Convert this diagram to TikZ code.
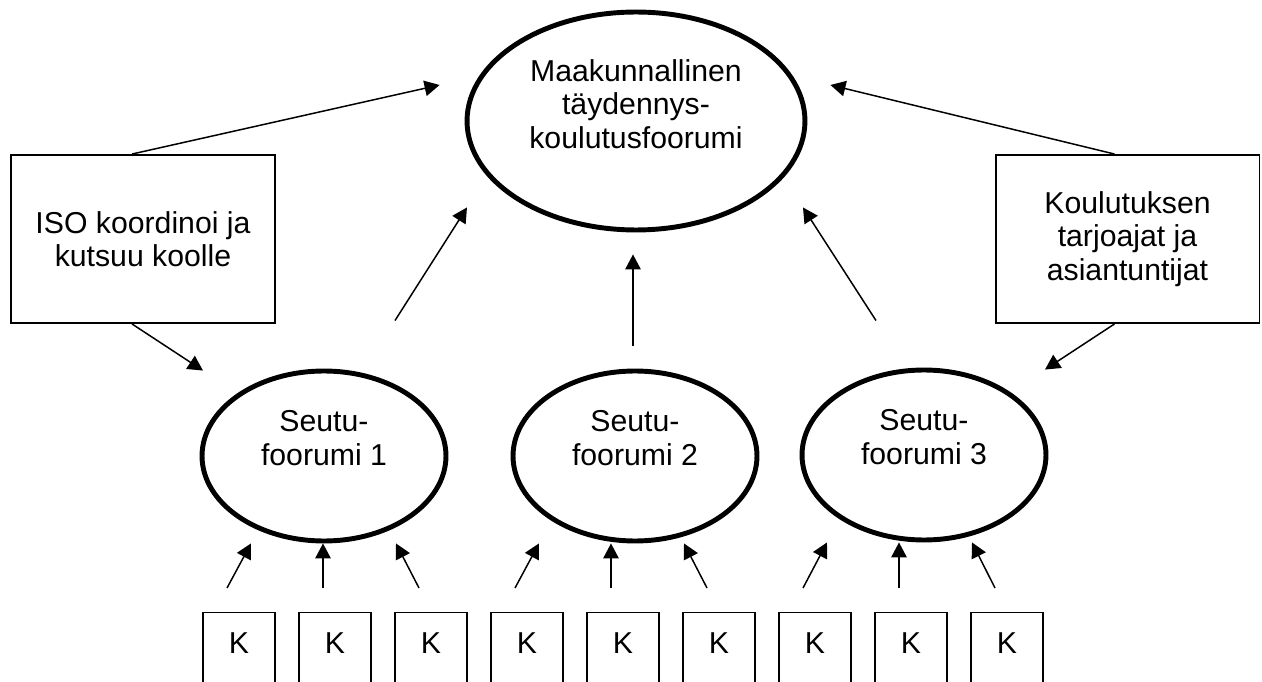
\documentclass[tikz,border=0pt]{standalone}
\usepackage{fontspec}
\setmainfont{Liberation Sans}
\usepackage{tikz}
\usetikzlibrary{shapes.geometric, arrows.meta, calc}
\newcommand{\diagramFont}{\fontsize{17.2}{19}\selectfont}
\tikzstyle{diagram} = [x = 0.02cm, y = -0.02cm, every node/.style={font=\diagramFont}]
\tikzstyle{forumStyle} = [draw, ellipse, line width=2.8pt, inner sep=0]
\tikzstyle{forumText} = [align=center, inner sep=0]
\tikzstyle{boxStyle} = [draw, line width=1.1pt, align=center, minimum width=5.28cm, minimum height=3.36cm]
\tikzstyle{kStyle} = [draw, line width=.7pt, anchor=north, minimum width=1.44cm, inner sep=0, text height=.82cm, text depth=2cm]
\tikzstyle{arrowStyle} = [line width=.85pt, -{Triangle[length=.3cm, width=.31cm]}]
\newcommand{\forumNode}[4]{\node [forumStyle, minimum width=4.88cm, minimum height=3.4cm, label={[forumText, yshift=.36cm]center:{Seutu-\\foorumi #4}}] (#1) at (#2, #3) {};}
\newcommand{\kBox}[2]{\node [kStyle] (k#1) at (#2, 612) {K};}
\newcommand{\kArrow}[3]{\draw [arrowStyle] ($(k#1.north) + (-12,-24)$) -- ($(#2.south) + (#3,0)$);}

\begin{document}
\begin{tikzpicture}[diagram]
  \useasboundingbox (0,0) rectangle (1262,682);
  \clip (0,0) rectangle (1262,682);

  \node [forumStyle, minimum width=6.76cm, minimum height=4.36cm,
    label={[forumText, yshift=.34cm]center:{Maakunnallinen\\täydennys-\\koulutusfoorumi}}] (forum) at (636,121) {};
  \node [boxStyle] (iso) at (143,239) {ISO koordinoi ja\\kutsuu koolle};
  \node [boxStyle] (tarjoajat) at (1127.5,239) {Koulutuksen\\tarjoajat ja\\asiantuntijat};

  \forumNode{s1}{324}{456}{1}
  \forumNode{s2}{635}{456}{2}
  \forumNode{s3}{924}{455}{3}

  \foreach \i in {1,...,9} {
    \pgfmathsetmacro{\xpos}{239 + 96 * (\i - 1)}
    \kBox{\i}{\xpos}
  }

  \draw [arrowStyle] ($(iso.north) + (-11,0)$) -- ($(forum.west) + (-25,-36)$);
  \draw [arrowStyle] ($(tarjoajat.north) + (-13,0)$) -- ($(forum.east) + (23,-36)$);
  \draw [arrowStyle] ($(iso.south) + (-11,0)$) -- ($(s1.north) + (-121,2)$);
  \draw [arrowStyle] ($(tarjoajat.south) + (-13,0)$) -- ($(s3.north) + (121,2)$);
  \draw [arrowStyle] ($(s1.north) + (71,-48)$) -- ($(forum.south) + (-169,-25)$);
  \draw [arrowStyle] ($(s2.north) + (-2,-23)$) -- ($(forum.south) + (-3,22)$);
  \draw [arrowStyle] ($(s3.north) + (-48,-47)$) -- ($(forum.south) + (167,-25)$);

  \kArrow{1}{s1}{-73}
  \kArrow{2}{s1}{-1}
  \kArrow{3}{s1}{72}
  \kArrow{4}{s2}{-96}
  \kArrow{5}{s2}{-24}
  \kArrow{6}{s2}{49}
  \kArrow{7}{s3}{-97}
  \kArrow{8}{s3}{-25}
  \kArrow{9}{s3}{48}
\end{tikzpicture}
\end{document}
